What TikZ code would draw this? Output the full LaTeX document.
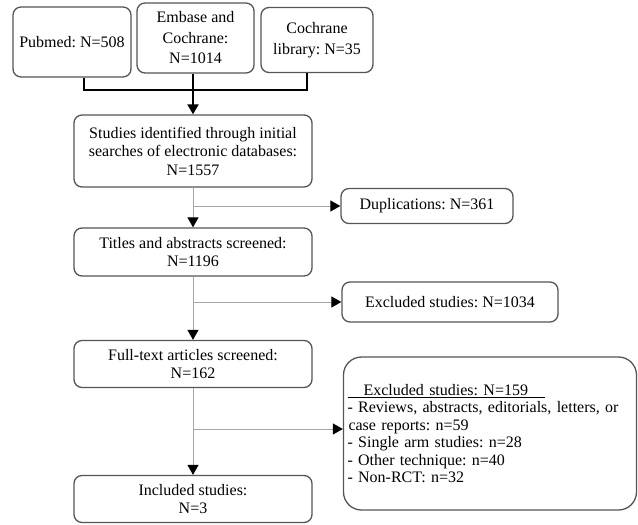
\documentclass[tikz,border=0pt]{standalone}
\usepackage{fontspec}
\setmainfont{Liberation Serif}
\usepackage{tikz}
\usetikzlibrary{arrows.meta}
\definecolor{boxgray}{HTML}{555555}
\definecolor{linegray}{HTML}{A6A6A6}
\frenchspacing

\begin{document}
\begin{tikzpicture}[
		x=1pt, y=-1pt,
		every node/.style={rectangle, rounded corners=8pt, draw=boxgray, line width=1.3pt, align=center, inner sep=2pt, font=\fontsize{16}{18.5}\selectfont},
		feed/.style={line width=2pt, black},
		flow/.style={line width=1pt, linegray, -{Triangle[length=10pt, width=11pt, color=black]}}
	]
  \useasboundingbox (0, 0) rectangle (638, 525);
  % sources
  \node (pubmed) [minimum width=118pt, minimum height=70pt] at (72, 42) {Pubmed: N=508};
  \node (embase) [minimum width=117pt, minimum height=70pt, font=\fontsize{16}{20.5}\selectfont] at (195.5, 38) {Embase and\\Cochrane:\\N=1014};
  \node (cochrane) [minimum width=112pt, minimum height=65pt, font=\fontsize{16}{20.5}\selectfont] at (317, 40) {Cochrane\\library: N=35};
  % main column
  \node (ident) [minimum width=238pt, minimum height=72pt] at (193, 151) {Studies identified through initial\\searches of electronic databases:\\N=1557};
  \node (titles) [minimum width=238pt, minimum height=48pt] at (193, 252) {Titles and abstracts screened:\\N=1196};
  \node (fulltext) [minimum width=238pt, minimum height=47pt] at (193, 364) {Full-text articles screened:\\N=162};
  \node (included) [minimum width=238pt, minimum height=47pt] at (193, 499) {Included studies:\\N=3};
  % exclusions
  \node (dup) [minimum width=172pt, minimum height=35pt] at (427, 206) {Duplications: N=361};
  \node (excl1) [minimum width=216pt, minimum height=40pt] at (450, 302) {Excluded studies: N=1034};
  \node (excl2) [rounded corners=18pt, text width=285pt, inner xsep=4pt, minimum height=153pt, align=left, font=\fontsize{16}{17.4}\selectfont] at (490, 433.5)
    {\underline{\hspace{16pt}Excluded studies: N=159\hspace{17pt}}\\
     - Reviews, abstracts, editorials, letters, or\\
     \mbox{\hspace{1pt}}case reports: n=59\\
     - Single arm studies: n=28\\
     - Other technique: n=40\\
     - Non-RCT: n=32};
  \coordinate (join) at (193, 90);
  \coordinate (cut) at (193, 429);
  \draw[feed] ([xshift=12pt]pubmed.south) |- (join) -| ([xshift=-10pt]cochrane.south);
  \draw[feed] (embase.south -| join) -- (join);
  \draw[feed, -{Triangle[length=10pt, width=11pt]}] (join) -- (ident);
  \draw[flow] (ident) -- (titles);
  \draw[flow] (ident.south |- dup) -- (dup);
  \draw[flow] (titles) -- (fulltext);
  \draw[flow] (titles.south |- excl1) -- (excl1);
  \draw[flow] (fulltext) -- (included);
  \draw[flow] (cut) -- (cut -| excl2.west);
\end{tikzpicture}
\end{document}
